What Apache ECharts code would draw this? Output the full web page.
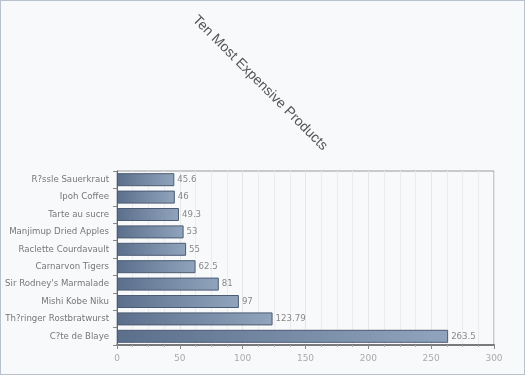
<!DOCTYPE html>
<html><head><meta charset="utf-8">
<script src="https://cdn.jsdelivr.net/npm/echarts@6/dist/echarts.min.js"></script>
<style>html,body{margin:0;padding:0;background:#fff}#c{width:523px;height:373px;border:1px solid #b9c1cc;background:#f8f9fb}</style>
</head><body><div id="c"></div>
<script>
var categories = ["R?ssle Sauerkraut","Ipoh Coffee","Tarte au sucre","Manjimup Dried Apples","Raclette Courdavault","Carnarvon Tigers","Sir Rodney's Marmalade","Mishi Kobe Niku","Th?ringer Rostbratwurst","C?te de Blaye"];
var values = [45.6,46,49.3,53,55,62.5,81,97,123.79,263.5];
var xTicks = [0,50,100,150,200,250,300];
var titleText = "Ten Most Expensive Products";
var labelFont = '"DejaVu Sans", Verdana, sans-serif';

var chart = echarts.init(document.getElementById('c'), null, {renderer:'canvas'});
chart.setOption({
  backgroundColor: '#f8f9fb',
  animation: false,
  graphic: [{
    type: 'text',
    x: 259, y: 82,
    style: {text: titleText, font: '14px "Liberation Sans", Arial, sans-serif', fill: '#555', align: 'center', verticalAlign: 'middle'},
    rotation: -Math.PI/4
  }],
  grid: {left: 116, right: 30, top: 170, bottom: 29, outerBoundsMode: 'none', containLabel: false, show: true, borderColor: '#9a9a9a', borderWidth: 1, backgroundColor: 'transparent'},
  xAxis: {
    type: 'value', min: xTicks[0], max: xTicks[xTicks.length-1], interval: 50,
    axisLine: {show: true, lineStyle: {color: '#7a7a7a', width: 2}},
    axisTick: {show: true, length: 4, lineStyle: {color: '#888'}},
    minorTick: {show: true, splitNumber: 4, length: 2, lineStyle: {color: '#aaa'}},
    axisLabel: {color: '#aaa', fontFamily: labelFont, fontSize: 9, margin: 9},
    splitLine: {show: true, lineStyle: {color: '#e6e6e6'}},
    minorSplitLine: {show: true, lineStyle: {color: '#ececec'}}
  },
  yAxis: {
    type: 'category', data: categories, inverse: true,
    axisLine: {show: true, lineStyle: {color: '#666', width: 1}},
    axisTick: {show: true, length: 4, lineStyle: {color: '#888'}},
    axisLabel: {color: '#777', fontFamily: labelFont, fontSize: 8.6, margin: 8}
  },
  series: [{
    type: 'bar', data: values, barWidth: 13,
    itemStyle: {
      color: new echarts.graphic.LinearGradient(0,0,1,0,[{offset:0,color:'#5b6f8c'},{offset:1,color:'#91a4bd'}]),
      borderColor: '#4b5b72', borderWidth: 1
    },
    label: {show: true, position: 'right', distance: 3, color: '#888', fontFamily: labelFont, fontSize: 8.6}
  }]
});
</script></body></html>
